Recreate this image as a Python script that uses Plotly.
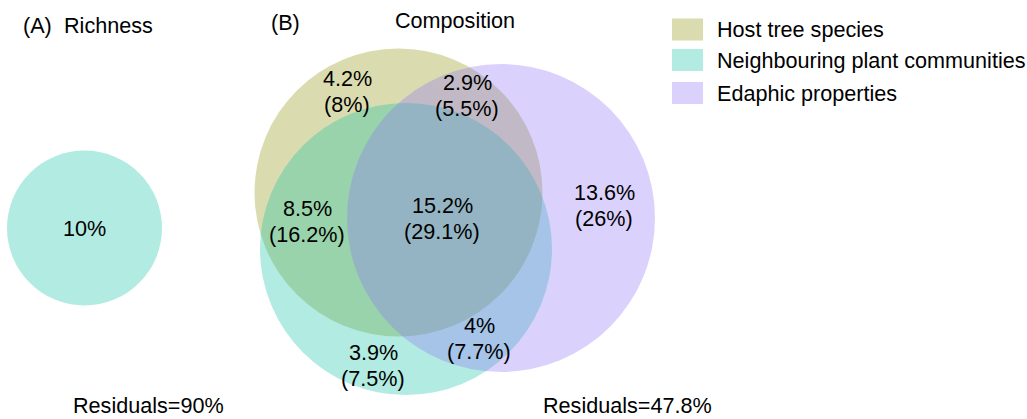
import plotly.graph_objects as go

# Variance partitioning results (% of explained variation, with share of total in brackets)
richness_value = ["10%"]
richness_residual = "Residuals=90%"

region_names = ["Host only", "Host & Edaphic", "Host & Neighbour", "All three",
                "Edaphic only", "Neighbour & Edaphic", "Neighbour only"]
region_pct = ["4.2%", "2.9%", "8.5%", "15.2%", "13.6%", "4%", "3.9%"]
region_share = ["(8%)", "(5.5%)", "(16.2%)", "(29.1%)", "(26%)", "(7.7%)", "(7.5%)"]
composition_residual = "Residuals=47.8%"

legend_labels = ["Host tree species", "Neighbouring plant communities", "Edaphic properties"]

# Drawing layout (canvas units = pixels)
W, H = 1027, 419
FONT = "Liberation Sans, Arial, sans-serif"
FS = 21.6
fill_colors = ["rgb(139,146,8)", "rgb(14,193,161)", "rgb(139,114,246)"]
opacity = 0.32

circles = [  # (cx, cy, r) for host, neighbour, edaphic
    (398.5, 192.5, 144),
    (406, 249, 146),
    (501, 218, 154),
]
richness_circle = (84.5, 228, 77.5)
region_xy = [(347, 91), (467, 95), (307, 221), (442, 218), (604, 205), (479, 338), (373, 365)]

fig = go.Figure()
fig.add_trace(go.Scatter(x=[0, W], y=[0, H], mode="markers",
                         marker=dict(opacity=0), hoverinfo="skip", showlegend=False))

shapes = []
cx, cy, r = richness_circle
shapes.append(dict(type="circle", xref="x", yref="y", x0=cx - r, x1=cx + r, y0=cy - r, y1=cy + r,
                   fillcolor=fill_colors[1], opacity=opacity, line=dict(width=0), layer="below"))
for (cx, cy, r), col in zip(circles, fill_colors):
    shapes.append(dict(type="circle", xref="x", yref="y", x0=cx - r, x1=cx + r, y0=cy - r, y1=cy + r,
                       fillcolor=col, opacity=opacity, line=dict(width=0), layer="below"))

# legend swatches
leg_y = [29.5, 60, 93]
for yc, col in zip(leg_y, fill_colors):
    shapes.append(dict(type="rect", xref="x", yref="y", x0=672, x1=703, y0=yc - 11, y1=yc + 11,
                       fillcolor=col, opacity=opacity, line=dict(width=0)))

ann = []
def text(x, y, s, size=FS, anchor="center"):
    ann.append(dict(x=x, y=y, xref="x", yref="y", text=s, showarrow=False,
                    xanchor=anchor, yanchor="middle", font=dict(family=FONT, size=size, color="black")))

text(21, 25, "(A)", anchor="left")
text(62, 25, "Richness", anchor="left")
text(269, 22, "(B)", anchor="left")
text(455, 20, "Composition")
text(richness_circle[0], richness_circle[1], richness_value[0])
text(148, 405, richness_residual)
text(627, 405, composition_residual)
for (x, y), p, s in zip(region_xy, region_pct, region_share):
    text(x, y - 13, p)
    text(x, y + 13, s)
for yc, lab in zip(leg_y, legend_labels):
    text(715, yc, lab, anchor="left")

fig.update_layout(
    width=W, height=H, margin=dict(l=0, r=0, t=0, b=0),
    paper_bgcolor="white", plot_bgcolor="white",
    xaxis=dict(range=[0, W], visible=False, fixedrange=True),
    yaxis=dict(range=[H, 0], visible=False, fixedrange=True),
    shapes=shapes, annotations=ann, showlegend=False,
)
fig.write_html("out.html")
